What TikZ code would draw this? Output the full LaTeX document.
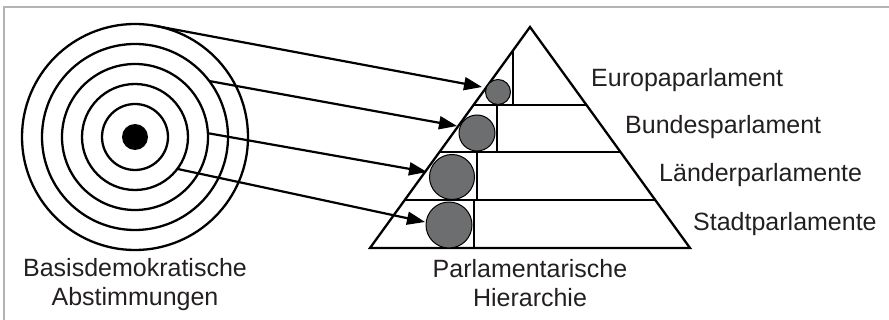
\documentclass[tikz,border=0pt]{standalone}
\usepackage{fontspec}
\setmainfont{Liberation Sans}
\usetikzlibrary{arrows.meta}
\definecolor{framegray}{HTML}{B3B3B3}
\definecolor{ballgray}{HTML}{6D6E70}
\definecolor{txt}{HTML}{231F20}
\tikzset{
  ring/.style={circle,draw,line width=2.3pt,inner sep=0pt,outer sep=0pt,minimum size=#1},
  ball/.style={circle,draw,fill=ballgray,line width=1pt,inner sep=0pt,outer sep=0pt,minimum size=#1},
  conn/.style={line width=2.2pt,-{Triangle[length=18pt,width=13pt]}},
  pyr/.style={line width=2.3pt},
  lbl/.style={text=txt,font=\fontsize{25}{29.5}\selectfont,inner sep=0pt,anchor=base west},
  bottomlbl/.style={text=txt,font=\fontsize{25}{29.5}\selectfont,inner sep=0pt,align=center,anchor=base}
}
\begin{document}
\begin{tikzpicture}[x=1pt,y=-1pt]
\useasboundingbox (0,0) rectangle (889,320);
% frame
\draw[framegray,line width=2pt] (4,320) -- (4,7) -- (889,7);
% target rings
\node[ring=226pt] (r1) at (135,137) {};
\node[ring=186pt] (r2) at (135,137) {};
\node[ring=146pt] (r3) at (135,137) {};
\node[ring=106pt] (r4) at (135,137) {};
\node[ring=66pt] (r5) at (135,137) {};
\node[circle,fill=black,inner sep=0pt,minimum size=26pt] (dot) at (135,137) {};
% pyramid
\draw[pyr] (370,248) -- (530,27) -- (690,248) -- cycle;
\draw[pyr] (473.5,105) -- (586.5,105);
\draw[pyr] (439.5,152) -- (620.5,152);
\draw[pyr] (404.8,200) -- (655.2,200);
\draw[pyr] (513,50.5) -- (513,105);
\draw[pyr] (497,105) -- (497,152);
\draw[pyr] (477,152) -- (477,200);
\draw[pyr] (474,200) -- (474,248);
% balls
\node[ball=25pt] (b1) at (498,92) {};
\node[ball=36pt] (b2) at (477,133) {};
\node[ball=45pt] (b3) at (452,177) {};
\node[ball=46pt] (b4) at (449,225) {};
% arrow tips
\coordinate (t1) at (482,87);
\coordinate (t2) at (457,126);
\coordinate (t3) at (427,172);
\coordinate (t4) at (425,222);
\draw[conn] (r1.80.8) -- (t1);
\draw[conn] (r2.37.5) -- (t2);
\draw[conn] (r3.3.2) -- (t3);
\draw[conn] (r4.-37.5) -- (t4);
% labels
\node[lbl] (l1) at (591,87) {Europaparlament};
\node[lbl] (l2) at (625,134) {Bundesparlament};
\node[lbl] (l3) at (659,182) {Länderparlamente};
\node[lbl] (l4) at (693,231) {Stadtparlamente};
\node[bottomlbl] (c1) at (135,306) {Basisdemokratische\\Abstimmungen};
\node[bottomlbl] (c2) at (530,307) {Parlamentarische\\Hierarchie};
\end{tikzpicture}
\end{document}
